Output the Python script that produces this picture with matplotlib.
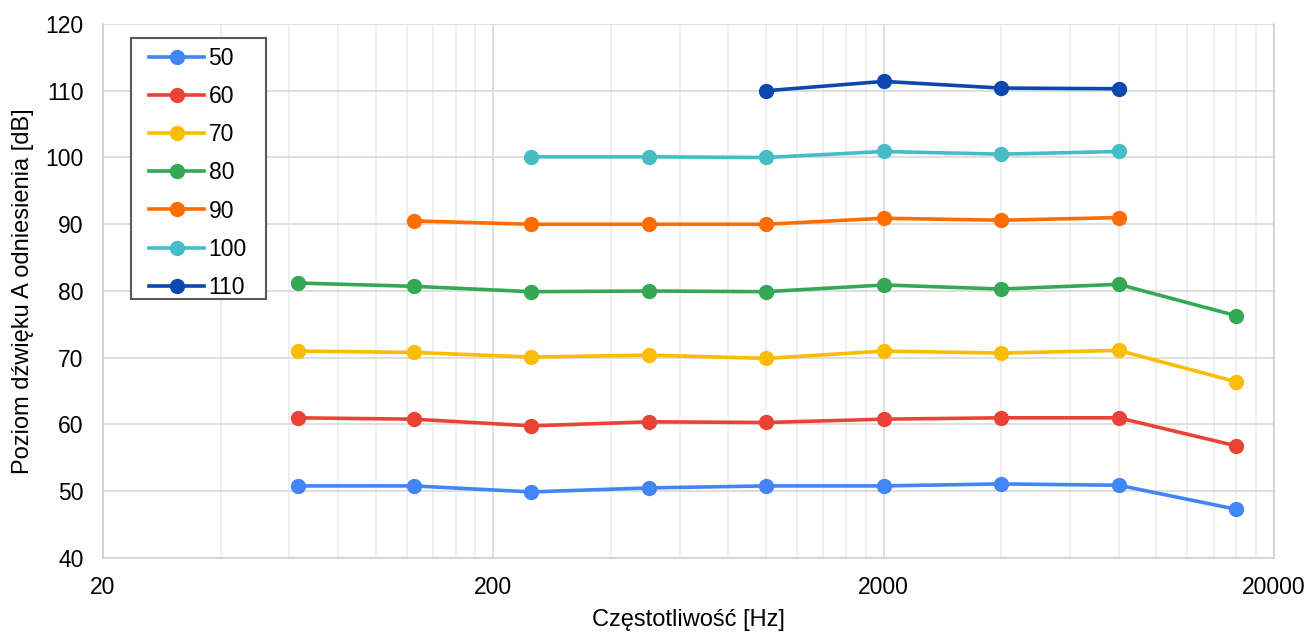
import matplotlib
matplotlib.use("Agg")
import matplotlib.pyplot as plt
from matplotlib.ticker import FixedLocator, NullFormatter, FixedFormatter
from matplotlib.patches import Rectangle
import numpy as np

plt.rcParams['font.family'] = ['Liberation Sans', 'DejaVu Sans']

freqs = [63, 125, 250, 500, 1000, 2000, 4000, 8000, 16000]
series_labels = ["50", "60", "70", "80", "90", "100", "110"]
s50 = [50.8, 50.8, 49.9, 50.5, 50.8, 50.8, 51.1, 50.9, 47.3]
s60 = [61.0, 60.8, 59.8, 60.4, 60.3, 60.8, 61.0, 61.0, 56.8]
s70 = [71.0, 70.8, 70.1, 70.4, 69.9, 71.0, 70.7, 71.1, 66.4]
s80 = [81.2, 80.7, 79.9, 80.0, 79.9, 80.9, 80.3, 81.0, 76.3]
s90 = [None, 90.5, 90.0, 90.0, 90.0, 90.9, 90.6, 91.0, None]
s100 = [None, None, 100.1, 100.1, 100.0, 100.9, 100.5, 100.9, None]
s110 = [None, None, None, None, 110.0, 111.4, 110.4, 110.3, None]
colors = ["#4285F4", "#EA4335", "#FBBC04", "#34A853", "#FF6D01", "#46BDC6", "#0B47AE"]
xticks = [20, 200, 2000, 20000]
yticks = [40, 50, 60, 70, 80, 90, 100, 110, 120]

W, H = 1309, 634
fig = plt.figure(figsize=(W/100, H/100), dpi=100)
ax = fig.add_axes([103/W, (H-558)/H, (1274-103)/W, (558-24)/H])

for lab, vals, c in zip(series_labels, [s50, s60, s70, s80, s90, s100, s110], colors):
    xs = [f for f, v in zip(freqs, vals) if v is not None]
    ys = [v for v in vals if v is not None]
    ax.plot(xs, ys, color=c, lw=2.6, marker='o', markersize=10, label=lab, zorder=3)

ax.set_xscale('log')
ax.set_xlim(20, 20000)
ax.set_ylim(40, 120)
ax.xaxis.set_major_locator(FixedLocator(xticks))
ax.xaxis.set_major_formatter(FixedFormatter([str(t) for t in xticks]))
minors = [20 * 10**n * k for n in range(3) for k in range(2, 10)]
ax.xaxis.set_minor_locator(FixedLocator(minors))
ax.xaxis.set_minor_formatter(NullFormatter())
ax.set_yticks(yticks)
ax.grid(True, which='major', axis='both', color='#d9d9d9', lw=1.2, zorder=0)
ax.grid(True, which='minor', axis='x', color='#ececec', lw=1.2, zorder=0)
ax.tick_params(which='both', length=0, labelsize=16.5)
ax.tick_params(axis='y', pad=14)
ax.tick_params(axis='x', pad=13)
for sp in ax.spines.values():
    sp.set_color('#d0d0d0')
    sp.set_linewidth(1.2)
ax.spines['top'].set_visible(False)

ax.set_xlabel("Częstotliwość [Hz]", fontsize=17, labelpad=7)
ax.set_ylabel("Poziom dźwięku A odniesienia [dB]", fontsize=17, labelpad=8)

frame = Rectangle((131/W, 1-299/H), (266-131)/W, (299-38)/H, transform=fig.transFigure,
                  facecolor='white', edgecolor='#595959', lw=1.5, zorder=4, clip_on=False)
ax.add_artist(frame)
leg = ax.legend(loc='upper left', bbox_to_anchor=(149/W, 1-47/H),
                bbox_transform=fig.transFigure, fontsize=16.5,
                frameon=False, handlelength=2.4, handletextpad=0.2,
                labelspacing=0.66, borderpad=0, borderaxespad=0)
leg.set_zorder(5)

fig.savefig("out.png", dpi=100)
